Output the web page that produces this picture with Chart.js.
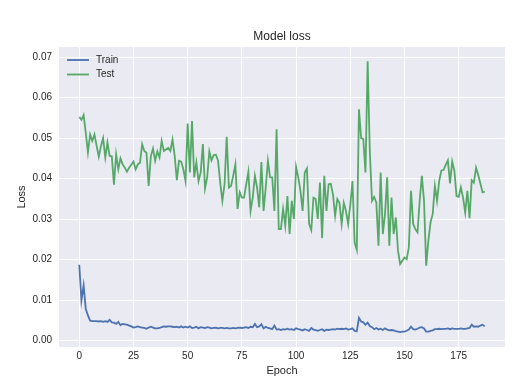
<!DOCTYPE html>
<html>
<head>
<meta charset="utf-8">
<script src="https://cdn.jsdelivr.net/npm/chart.js@4"></script>
<style>
  html, body { margin: 0; padding: 0; background: #fff; }
  #wrap { width: 531px; height: 391px; }
</style>
</head>
<body>
<div id="wrap"><canvas id="chart-loss" width="531" height="391"></canvas></div>
<script>
// loss per epoch
const trainLoss = [
  0.0187, 0.0099, 0.0136, 0.0078, 0.0062, 0.0049, 0.0048, 0.0048, 0.0048, 0.0047,
  0.0048, 0.0046, 0.0048, 0.0046, 0.0051, 0.0045, 0.0044, 0.0041, 0.0046, 0.0038,
  0.0041, 0.0040, 0.0039, 0.0037, 0.0035, 0.0032, 0.0033, 0.0035, 0.0033, 0.0032,
  0.0031, 0.0029, 0.0032, 0.0034, 0.0032, 0.0030, 0.0030, 0.0031, 0.0033, 0.0035,
  0.0034, 0.0035, 0.0035, 0.0034, 0.0033, 0.0034, 0.0032, 0.0035, 0.0032, 0.0034,
  0.0032, 0.0035, 0.0031, 0.0032, 0.0034, 0.0030, 0.0033, 0.0032, 0.0031, 0.0033,
  0.0032, 0.0030, 0.0031, 0.0032, 0.0030, 0.0031, 0.0031, 0.0030, 0.0031, 0.0030,
  0.0030, 0.0031, 0.0030, 0.0031, 0.0032, 0.0031, 0.0032, 0.0033, 0.0031, 0.0034,
  0.0033, 0.0041, 0.0033, 0.0035, 0.0040, 0.0030, 0.0034, 0.0031, 0.0030, 0.0028,
  0.0037, 0.0027, 0.0028, 0.0026, 0.0028, 0.0027, 0.0029, 0.0027, 0.0028, 0.0026,
  0.0030, 0.0028, 0.0027, 0.0025, 0.0028, 0.0026, 0.0024, 0.0031, 0.0027, 0.0026,
  0.0024, 0.0026, 0.0028, 0.0024, 0.0027, 0.0026, 0.0027, 0.0028, 0.0027, 0.0029,
  0.0028, 0.0029, 0.0028, 0.0030, 0.0027, 0.0028, 0.0030, 0.0024, 0.0023, 0.0056,
  0.0047, 0.0045, 0.0039, 0.0044, 0.0036, 0.0033, 0.0028, 0.0031, 0.0027, 0.0029,
  0.0026, 0.0030, 0.0027, 0.0025, 0.0026, 0.0025, 0.0023, 0.0022, 0.0021, 0.0022,
  0.0022, 0.0024, 0.0027, 0.0034, 0.0028, 0.0027, 0.0029, 0.0032, 0.0033, 0.0030,
  0.0022, 0.0022, 0.0024, 0.0025, 0.0028, 0.0028, 0.0029, 0.0028, 0.0029, 0.0029,
  0.0030, 0.0028, 0.0030, 0.0029, 0.0029, 0.0029, 0.0030, 0.0029, 0.0029, 0.0030,
  0.0031, 0.0039, 0.0034, 0.0035, 0.0034, 0.0037, 0.0039, 0.0035
];

const testLoss = [
  0.0552, 0.0545, 0.0557, 0.0513, 0.0464, 0.0509, 0.0493, 0.0509, 0.0481, 0.0454,
  0.0480, 0.0500, 0.0452, 0.0489, 0.0456, 0.0455, 0.0385, 0.0460, 0.0423, 0.0450,
  0.0435, 0.0427, 0.0417, 0.0427, 0.0434, 0.0442, 0.0423, 0.0435, 0.0439, 0.0485,
  0.0468, 0.0464, 0.0382, 0.0455, 0.0474, 0.0444, 0.0467, 0.0452, 0.0493, 0.0468,
  0.0472, 0.0476, 0.0468, 0.0496, 0.0456, 0.0396, 0.0444, 0.0442, 0.0423, 0.0394,
  0.0536, 0.0415, 0.0542, 0.0403, 0.0440, 0.0394, 0.0415, 0.0485, 0.0376, 0.0403,
  0.0467, 0.0445, 0.0458, 0.0459, 0.0445, 0.0390, 0.0345, 0.0386, 0.0503, 0.0378,
  0.0382, 0.0407, 0.0435, 0.0325, 0.0366, 0.0353, 0.0353, 0.0386, 0.0417, 0.0320,
  0.0353, 0.0407, 0.0378, 0.0329, 0.0441, 0.0320, 0.0378, 0.0444, 0.0403, 0.0403,
  0.0320, 0.0522, 0.0275, 0.0275, 0.0325, 0.0284, 0.0357, 0.0263, 0.0345, 0.0300,
  0.0429, 0.0403, 0.0370, 0.0320, 0.0415, 0.0425, 0.0288, 0.0273, 0.0353, 0.0350,
  0.0300, 0.0390, 0.0253, 0.0407, 0.0320, 0.0386, 0.0387, 0.0361, 0.0308, 0.0349,
  0.0340, 0.0288, 0.0340, 0.0320, 0.0288, 0.0335, 0.0394, 0.0242, 0.0224, 0.0571,
  0.0500, 0.0498, 0.0415, 0.0690, 0.0468, 0.0345, 0.0355, 0.0341, 0.0234, 0.0415,
  0.0263, 0.0312, 0.0403, 0.0234, 0.0353, 0.0263, 0.0304, 0.0222, 0.0189, 0.0197,
  0.0205, 0.0201, 0.0230, 0.0370, 0.0288, 0.0275, 0.0267, 0.0345, 0.0407, 0.0345,
  0.0185, 0.0246, 0.0292, 0.0312, 0.0382, 0.0345, 0.0394, 0.0420, 0.0421, 0.0434,
  0.0445, 0.0388, 0.0442, 0.0419, 0.0357, 0.0355, 0.0378, 0.0353, 0.0316, 0.0370,
  0.0302, 0.0396, 0.0390, 0.0427, 0.0409, 0.0388, 0.0366, 0.0368
];

const epochs = trainLoss.map((_, i) => i);
const xTicks = [0, 25, 50, 75, 100, 125, 150, 175];
const yTicks = [0, 0.01, 0.02, 0.03, 0.04, 0.05, 0.06, 0.07];
const seriesNames = ['Train', 'Test'];
const seriesColors = ['#4C72B0', '#55A868'];

const FONT = '"Liberation Sans", Arial, sans-serif';
const TEXT = '#262626';

// seaborn-ish frame: grey plot face, title, axis labels, legend in the corner
const decor = {
  id: 'decor',
  beforeDraw(chart) {
    const { ctx, chartArea: a } = chart;
    ctx.save();
    ctx.fillStyle = '#EAEAF2';
    ctx.fillRect(a.left, a.top, a.right - a.left, a.bottom - a.top);
    ctx.restore();
  },
  afterDraw(chart) {
    const { ctx, chartArea: a } = chart;
    const cx = (a.left + a.right) / 2;
    ctx.save();
    ctx.fillStyle = TEXT;
    ctx.textAlign = 'center';
    ctx.textBaseline = 'middle';
    ctx.font = '12px ' + FONT;
    ctx.fillText('Model loss', cx, 37);
    ctx.font = '11px ' + FONT;
    ctx.fillText('Epoch', cx, 371);
    ctx.translate(22, (a.top + a.bottom) / 2);
    ctx.rotate(-Math.PI / 2);
    ctx.fillText('Loss', 0, 0);
    ctx.restore();

    // legend
    ctx.save();
    ctx.font = '10px ' + FONT;
    ctx.textAlign = 'left';
    ctx.textBaseline = 'middle';
    seriesNames.forEach((name, i) => {
      const y = a.top + 13 + i * 14.5;
      ctx.strokeStyle = seriesColors[i];
      ctx.lineWidth = 1.8;
      ctx.beginPath();
      ctx.moveTo(a.left + 8, y);
      ctx.lineTo(a.left + 30, y);
      ctx.stroke();
      ctx.fillStyle = TEXT;
      ctx.fillText(name, a.left + 37, y);
    });
    ctx.restore();
  }
};

new Chart(document.getElementById('chart-loss'), {
  type: 'line',
  data: {
    datasets: [trainLoss, testLoss].map((vals, i) => ({
      label: seriesNames[i],
      data: vals.map((v, j) => ({ x: epochs[j], y: v })),
      borderColor: seriesColors[i],
      borderWidth: 1.8,
      pointRadius: 0,
      tension: 0,
      fill: false
    }))
  },
  options: {
    responsive: false,
    animation: false,
    layout: { padding: { left: 0, right: 26, top: 47, bottom: 0 } },
    plugins: { legend: { display: false }, tooltip: { enabled: false } },
    scales: {
      x: {
        type: 'linear',
        min: -9.35,
        max: 196.35,
        afterBuildTicks: s => { s.ticks = xTicks.map(v => ({ value: v })); },
        afterFit: s => { s.height = 44; },
        grid: { color: '#ffffff', lineWidth: 1, drawTicks: false },
        border: { display: false },
        ticks: { color: TEXT, padding: 3, font: { family: FONT, size: 10 }, maxRotation: 0 }
      },
      y: {
        min: -0.0016,
        max: 0.0725,
        afterBuildTicks: s => { s.ticks = yTicks.map(v => ({ value: v })); },
        afterFit: s => { s.width = 59; },
        grid: { color: '#ffffff', lineWidth: 1, drawTicks: false },
        border: { display: false },
        ticks: {
          color: TEXT, padding: 7, font: { family: FONT, size: 10 },
          callback: v => v.toFixed(2)
        }
      }
    }
  },
  plugins: [decor]
});
</script>
</body>
</html>
